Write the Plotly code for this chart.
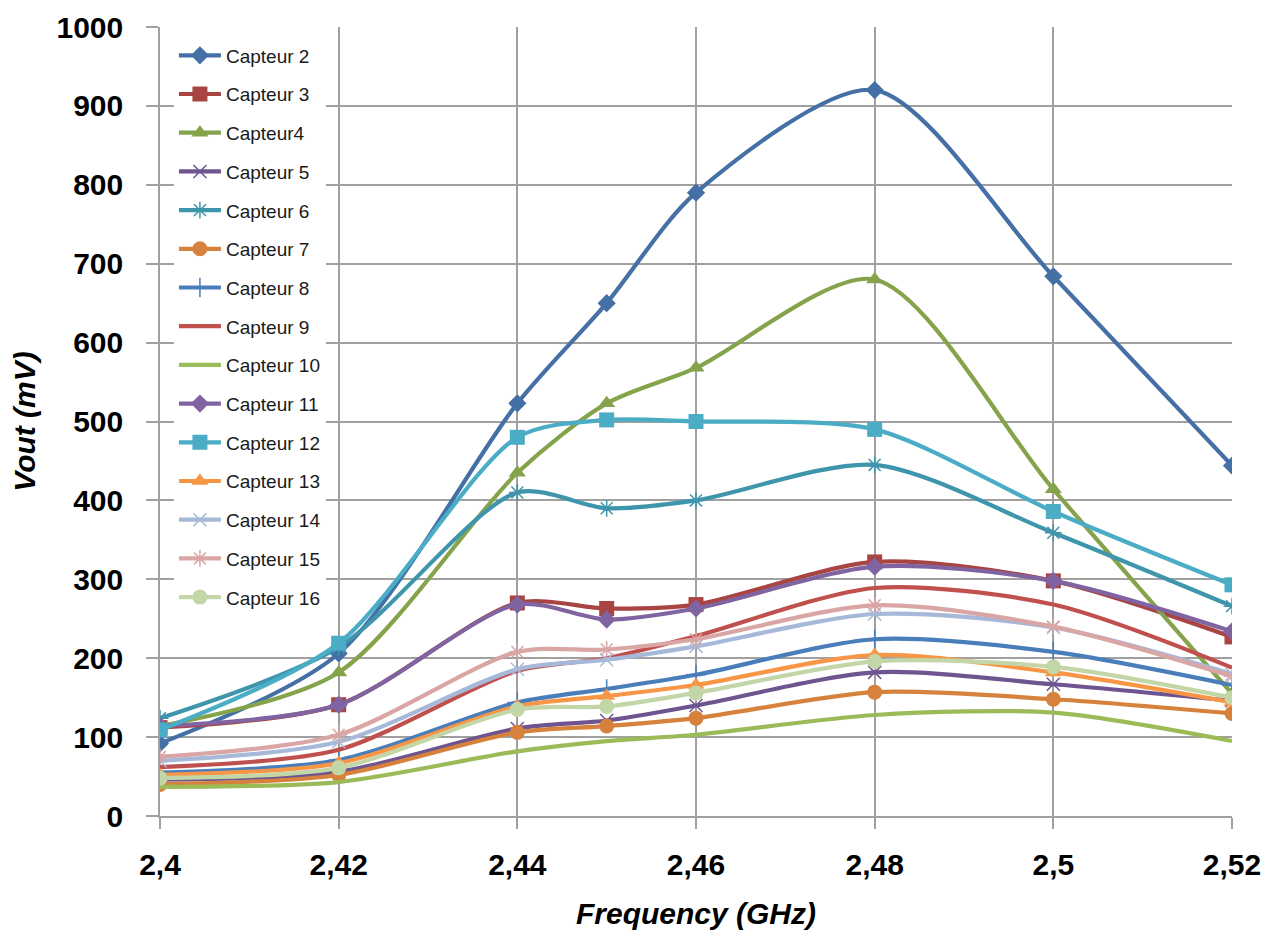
import plotly.graph_objects as go

freq = [2.40, 2.42, 2.44, 2.45, 2.46, 2.48, 2.50, 2.52]

capteur2 = [92, 206, 523, 650, 790, 920, 684, 444]
capteur3 = [112, 141, 270, 263, 268, 322, 298, 227]
capteur4 = [114, 182, 435, 523, 568, 680, 414, 155]
capteur5 = [46, 56, 111, 121, 140, 182, 167, 146]
capteur6 = [124, 214, 410, 390, 400, 445, 359, 266]
capteur7 = [40, 52, 106, 114, 124, 157, 148, 130]
capteur8 = [55, 71, 144, 161, 179, 224, 208, 166]
capteur9 = [62, 84, 184, 200, 228, 289, 268, 188]
capteur10 = [37, 43, 82, 95, 103, 128, 131, 95]
capteur11 = [114, 141, 268, 249, 263, 316, 298, 234]
capteur12 = [109, 219, 480, 502, 500, 490, 386, 293]
capteur13 = [52, 67, 139, 152, 166, 204, 182, 144]
capteur14 = [70, 94, 186, 198, 215, 256, 239, 180]
capteur15 = [75, 103, 208, 211, 224, 267, 240, 177]
capteur16 = [48, 61, 135, 139, 156, 196, 189, 150]

names = ["Capteur 2", "Capteur 3", "Capteur4", "Capteur 5", "Capteur 6",
         "Capteur 7", "Capteur 8", "Capteur 9", "Capteur 10", "Capteur 11",
         "Capteur 12", "Capteur 13", "Capteur 14", "Capteur 15", "Capteur 16"]

x_tickvals = [2.40, 2.42, 2.44, 2.46, 2.48, 2.50, 2.52]
x_ticktext = ["2,4", "2,42", "2,44", "2,46", "2,48", "2,5", "2,52"]
y_tickvals = [0, 100, 200, 300, 400, 500, 600, 700, 800, 900, 1000]

series = [capteur2, capteur3, capteur4, capteur5, capteur6, capteur7, capteur8,
          capteur9, capteur10, capteur11, capteur12, capteur13, capteur14,
          capteur15, capteur16]

colors = ["#4470A6", "#A84441", "#84A34B", "#6E5590", "#3F95AB", "#D6813C",
          "#4A7EBB", "#C0504D", "#9BBB59", "#8064A2", "#4BACC6", "#F79646",
          "#A7B9D9", "#D9A6A5", "#C3D6A7"]

# (symbol, size, line width of marker)
markers = [("diamond", 14, 0), ("square", 15, 0), ("triangle-up", 15, 0),
           ("x-thin-open", 13, 1.5), ("asterisk-open", 14, 1.5), ("circle", 15, 0),
           ("cross-thin-open", 14, 1.5), (None, 0, 0), (None, 0, 0),
           ("diamond", 14, 0), ("square", 15, 0), ("triangle-up", 15, 0),
           ("x-thin-open", 13, 1.5), ("asterisk-open", 14, 1.5), ("circle", 15, 0)]

fig = go.Figure()
for i, (name, vals, col, mk) in enumerate(zip(names, series, colors, markers)):
    sym, size, mlw = mk
    if sym is None:
        mode = "lines"
        marker = None
    else:
        mode = "lines+markers"
        marker = dict(symbol=sym, size=size, color=col,
                      line=dict(width=mlw, color=col))
    fig.add_trace(go.Scatter(
        x=freq, y=vals, name=name, mode=mode,
        line=dict(color=col, width=4.2, shape="spline", smoothing=0.8),
        marker=marker, legendgroup="g%d" % i,
    ))

grid_col = "#A0A0A0"
fig.update_layout(
    width=1264, height=930,
    margin=dict(l=160, r=32, t=27, b=114, autoexpand=False),
    paper_bgcolor="white", plot_bgcolor="white",
    font=dict(family="Liberation Sans, Arial, sans-serif", color="black"),
    showlegend=True,
    legend=dict(x=0.013, y=0.988, xanchor="left", yanchor="top",
                bgcolor="white", borderwidth=0,
                font=dict(size=19, color="#1a1a1a"),
                tracegroupgap=11, itemwidth=42),
    xaxis=dict(range=[2.40, 2.52], tickvals=x_tickvals, ticktext=x_ticktext,
               automargin=False,
               showgrid=True, gridcolor=grid_col, gridwidth=1.5,
               showline=True, linecolor=grid_col, linewidth=1.5,
               ticks="outside", ticklen=11, tickwidth=1.5, tickcolor=grid_col,
               tickfont=dict(size=30, family="Liberation Sans, Arial", weight="bold"),
               ticklabelstandoff=10,
               zeroline=False,
               title=dict(text="<b><i>Frequency (GHz)</i></b>",
                          font=dict(size=30), standoff=23)),
    yaxis=dict(range=[0, 1000], tickvals=y_tickvals,
               automargin=False,
               showgrid=True, gridcolor=grid_col, gridwidth=1.5,
               showline=True, linecolor=grid_col, linewidth=1.5,
               ticks="outside", ticklen=12, tickwidth=1.5, tickcolor=grid_col,
               tickfont=dict(size=30, family="Liberation Sans, Arial", weight="bold"),
               ticklabelstandoff=17,
               zeroline=False,
               title=dict(text="<b><i>Vout (mV)</i></b>",
                          font=dict(size=30), standoff=12)),
)

fig.write_html("out.html",
               config={"displayModeBar": False},
               post_script="document.body.style.margin='0';document.body.style.overflow='hidden';")
